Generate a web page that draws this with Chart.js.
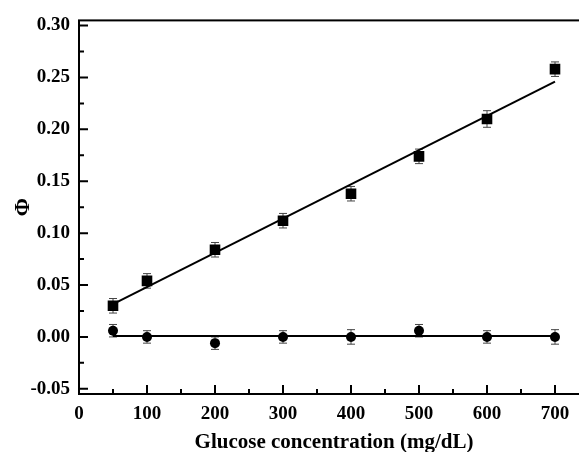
<!DOCTYPE html>
<html>
<head>
<meta charset="utf-8">
<script src="https://cdn.jsdelivr.net/npm/chart.js@4/dist/chart.umd.min.js"></script>
<style>
  html, body { margin: 0; padding: 0; background: #fff; overflow: hidden; width: 579px; height: 452px; }
  canvas { display: block; }
</style>
</head>
<body>
<canvas id="chart" width="600" height="452"></canvas>
<script>
// glucose concentration, mg/dL
const concentrations = [50, 100, 200, 300, 400, 500, 600, 700];

// phi, square series (responsive) and circle series (control)
const phiSquares = [0.030, 0.054, 0.084, 0.112, 0.138, 0.174, 0.210, 0.258];
const errSquares = [0.007, 0.007, 0.007, 0.007, 0.007, 0.007, 0.008, 0.007];
const phiCircles = [0.006, 0.000, -0.006, 0.000, 0.000, 0.006, 0.000, 0.000];
const errCircles = [0.006, 0.006, 0.006, 0.006, 0.007, 0.006, 0.006, 0.007];

// linear fits (end points)
const fitX = [50, 700];
const fitSquares = [0.0316, 0.246];
const fitCircles = [0.0008, 0.0008];

// tick labels
const xTicks = [0, 100, 200, 300, 400, 500, 600, 700];
const xMinor = [50, 150, 250, 350, 450, 550, 650, 750];
const yTicks = [-0.05, 0.00, 0.05, 0.10, 0.15, 0.20, 0.25, 0.30];
const yMinor = [-0.025, 0.025, 0.075, 0.125, 0.175, 0.225, 0.275];

const FONT = '"Liberation Serif", "Times New Roman", serif';

const toPoints = (xs, ys) => xs.map((x, i) => ({ x: x, y: ys[i] }));

// error bars (under the markers), then frame + inward ticks
const decorations = {
  id: 'decorations',
  beforeDatasetsDraw(chart) {
    const ctx = chart.ctx;
    const xs = chart.scales.x, ys = chart.scales.y;
    ctx.save();
    ctx.strokeStyle = '#444';
    ctx.lineWidth = 1;
    chart.data.datasets.forEach((ds) => {
      if (!ds.errors) return;
      ds.data.forEach((p, i) => {
        const px = xs.getPixelForValue(p.x);
        const top = ys.getPixelForValue(p.y + ds.errors[i]);
        const bot = ys.getPixelForValue(p.y - ds.errors[i]);
        ctx.beginPath();
        ctx.moveTo(px, top); ctx.lineTo(px, bot);
        ctx.moveTo(px - 4, top); ctx.lineTo(px + 4, top);
        ctx.moveTo(px - 4, bot); ctx.lineTo(px + 4, bot);
        ctx.stroke();
      });
    });
    ctx.restore();
  },
  afterDatasetsDraw(chart) {
    const ctx = chart.ctx;
    const xs = chart.scales.x, ys = chart.scales.y;
    const a = chart.chartArea;
    ctx.save();
    ctx.strokeStyle = '#000';
    ctx.lineWidth = 2;
    ctx.strokeRect(a.left, a.top, a.right - a.left, a.bottom - a.top);

    ctx.beginPath();
    xTicks.forEach(v => {
      const px = xs.getPixelForValue(v);
      ctx.moveTo(px, a.bottom); ctx.lineTo(px, a.bottom - 9);
    });
    xMinor.forEach(v => {
      const px = xs.getPixelForValue(v);
      ctx.moveTo(px, a.bottom); ctx.lineTo(px, a.bottom - 5);
    });
    yTicks.forEach(v => {
      const py = ys.getPixelForValue(v);
      ctx.moveTo(a.left, py); ctx.lineTo(a.left + 9, py);
    });
    yMinor.forEach(v => {
      const py = ys.getPixelForValue(v);
      ctx.moveTo(a.left, py); ctx.lineTo(a.left + 5, py);
    });
    ctx.stroke();
    ctx.restore();
  }
};

const ctx = document.getElementById('chart').getContext('2d');
new Chart(ctx, {
  type: 'scatter',
  data: {
    datasets: [
      {
        type: 'line',
        data: toPoints(fitX, fitSquares),
        borderColor: '#000',
        borderWidth: 2,
        pointRadius: 0,
        fill: false,
      },
      {
        type: 'line',
        data: toPoints(fitX, fitCircles),
        borderColor: '#000',
        borderWidth: 2,
        pointRadius: 0,
        fill: false,
      },
      {
        data: toPoints(concentrations, phiSquares),
        errors: errSquares,
        pointStyle: 'rect',
        pointRadius: 7.5,
        backgroundColor: '#000',
        borderColor: '#000',
        borderWidth: 0,
      },
      {
        data: toPoints(concentrations, phiCircles),
        errors: errCircles,
        pointStyle: 'circle',
        pointRadius: 5,
        backgroundColor: '#000',
        borderColor: '#000',
        borderWidth: 0,
      }
    ]
  },
  options: {
    responsive: false,
    animation: false,
    layout: { padding: { top: 15, right: 11, left: 0, bottom: 0 } },
    plugins: {
      legend: { display: false },
      tooltip: { enabled: false }
    },
    scales: {
      x: {
        type: 'linear',
        min: 0,
        max: 750,
        grid: { display: false, drawTicks: false },
        border: { display: false },
        afterBuildTicks: (scale) => { scale.ticks = xTicks.map(v => ({ value: v })); },
        afterFit: (scale) => { scale.height = 58; },
        ticks: {
          padding: 9,
          color: '#000',
          font: { family: FONT, size: 19, weight: 'bold' },
          callback: (v) => String(v)
        },
        title: {
          display: true,
          text: 'Glucose concentration (mg/dL)',
          color: '#000',
          padding: { top: 3, bottom: -3 },
          font: { family: FONT, size: 21, weight: 'bold' }
        }
      },
      y: {
        min: -0.055,
        max: 0.305,
        grid: { display: false, drawTicks: false },
        border: { display: false },
        afterBuildTicks: (scale) => { scale.ticks = yTicks.map(v => ({ value: v })); },
        afterFit: (scale) => { scale.width = 79; },
        ticks: {
          padding: 9,
          color: '#000',
          font: { family: FONT, size: 19, weight: 'bold' },
          callback: (v) => Number(v).toFixed(2)
        },
        title: {
          display: true,
          text: 'Φ',
          color: '#000',
          padding: { top: 10, bottom: 0 },
          font: { family: FONT, size: 22, weight: 'bold' }
        }
      }
    }
  },
  plugins: [decorations]
});
</script>
</body>
</html>
